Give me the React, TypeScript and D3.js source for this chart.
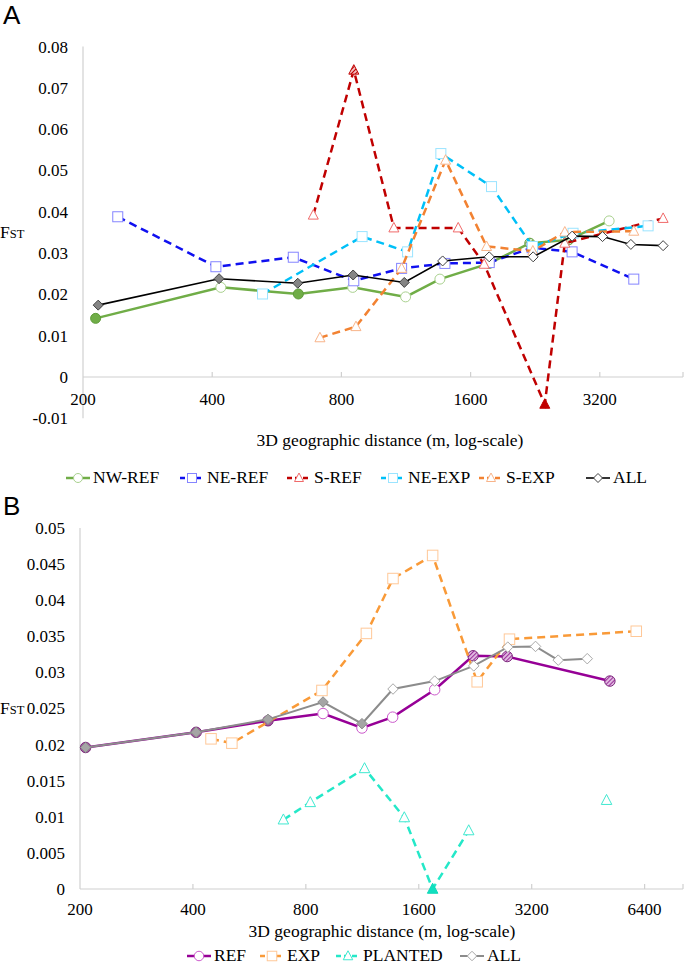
import React from "react";
import * as d3 from "d3";

// ---- panel A: FST vs 3D distance, by region ----
const xTicksA = [200, 400, 800, 1600, 3200];
const yTicksA = [0.08, 0.07, 0.06, 0.05, 0.04, 0.03, 0.02, 0.01, 0, -0.01];

const distNwRef = [214, 419, 635, 850, 1129, 1357, 1768, 2198, 2706, 3364];
const fstNwRef = [0.0142, 0.0217, 0.0201, 0.0217, 0.0194, 0.0237, 0.0275, 0.0324, 0.0332, 0.0378];
const sigNwRef = [2, 0, 2, 0, 0, 0, 1, 1, 1, 0]; // 0 open, 1 hatched, 2 filled

const distNeRef = [241, 408, 618, 855, 1105, 1394, 1768, 2225, 2758, 3840];
const fstNeRef = [0.0388, 0.0267, 0.029, 0.0233, 0.0263, 0.0275, 0.0277, 0.0313, 0.0303, 0.0237];
const sigNeRef = [0, 0, 0, 0, 0, 0, 0, 0, 0, 0];

const distSRef = [688, 855, 1060, 1497, 1721, 2382, 2652, 4494];
const fstSRef = [0.0392, 0.0743, 0.0361, 0.0361, 0.0273, -0.0066, 0.0324, 0.0384];
const sigSRef = [0, 1, 0, 0, 0, 2, 0, 0];

const distNeExp = [524, 894, 1141, 1364, 1790, 2230, 2772, 4146];
const fstNeExp = [0.0201, 0.034, 0.0303, 0.0541, 0.0461, 0.0316, 0.0348, 0.0366];
const sigNeExp = [0, 0, 0, 0, 0, 0, 0, 0];

const distSExp = [713, 865, 1105, 1399, 1743, 2234, 2652, 3840];
const fstSExp = [0.0095, 0.0122, 0.0263, 0.0525, 0.0316, 0.0305, 0.0351, 0.0353];
const sigSExp = [0, 0, 0, 0, 0, 0, 0, 0];

const distAllA = [217, 415, 633, 852, 1121, 1377, 1768, 2238, 2758, 3247, 3780, 4494];
const fstAllA = [0.0174, 0.0238, 0.0227, 0.0247, 0.0229, 0.0281, 0.0291, 0.0291, 0.0341, 0.034, 0.0321, 0.0318];
const sigAllA = [2, 2, 2, 2, 2, 0, 0, 0, 0, 0, 0, 0];

// ---- panel B: FST vs 3D distance, by stand type ----
const xTicksB = [200, 400, 800, 1600, 3200, 6400];
const yTicksB = [0.05, 0.045, 0.04, 0.035, 0.03, 0.025, 0.02, 0.015, 0.01, 0.005, 0];

const distRef = [207, 408, 634, 889, 1129, 1363, 1764, 2233, 2753, 5170];
const fstRef = [0.0196, 0.0217, 0.0233, 0.0243, 0.0223, 0.0238, 0.0276, 0.0323, 0.0322, 0.0288];
const sigRef = [2, 2, 2, 0, 0, 0, 0, 1, 1, 1];

const distExp = [447, 508, 883, 1160, 1366, 1742, 2290, 2792, 6080];
const fstExp = [0.0208, 0.0202, 0.0275, 0.0354, 0.043, 0.0462, 0.0287, 0.0346, 0.0357];
const sigExp = [0, 0, 0, 0, 0, 0, 0, 0, 0];

const distPlanted = [697, 822, 1147, 1464, 1742, 2174];
const fstPlanted = [0.0096, 0.012, 0.0167, 0.0099, 0, 0.0081];
const sigPlanted = [0, 0, 0, 0, 2, 0];
const distPlantedLone = [5066];
const fstPlantedLone = [0.0123];

const distAllB = [207, 408, 634, 889, 1129, 1366, 1764, 2242, 2763, 3276, 3766, 4500];
const fstAllB = [0.0196, 0.0217, 0.0235, 0.0259, 0.0229, 0.0277, 0.0288, 0.0309, 0.0335, 0.0336, 0.0317, 0.0319];
const sigAllB = [2, 2, 2, 2, 2, 0, 0, 0, 0, 0, 0, 0];

const SERIF = "Liberation Serif";
const SANS = "Liberation Sans";

type Shape = "circle" | "square" | "triangle" | "diamond";
type Series = {
  name: string;
  dist: number[];
  fst: number[];
  sig: number[];
  shape: Shape;
  line: string;
  width: number;
  dash?: string;
  mark: string;
  fill: string;
  fillStroke: string;
  hatch: string;
  noLine?: boolean;
  noLegend?: boolean;
};

const seriesA: Series[] = [
  { name: "NW-REF", dist: distNwRef, fst: fstNwRef, sig: sigNwRef, shape: "circle", line: "#70ad47", width: 2.5, mark: "#a9d18e", fill: "#70ad47", fillStroke: "#5f9c3a", hatch: "hGreen" },
  { name: "NE-REF", dist: distNeRef, fst: fstNeRef, sig: sigNeRef, shape: "square", line: "#1010f0", width: 2.5, dash: "8,5", mark: "#8585ff", fill: "#1010f0", fillStroke: "#1010f0", hatch: "hBlue" },
  { name: "S-REF", dist: distSRef, fst: fstSRef, sig: sigSRef, shape: "triangle", line: "#c00000", width: 2.5, dash: "8,5", mark: "#f06a6a", fill: "#c00000", fillStroke: "#c00000", hatch: "hRed" },
  { name: "NE-EXP", dist: distNeExp, fst: fstNeExp, sig: sigNeExp, shape: "square", line: "#00c0f8", width: 2.5, dash: "8,5", mark: "#9be4ff", fill: "#00c0f8", fillStroke: "#00c0f8", hatch: "hBlue" },
  { name: "S-EXP", dist: distSExp, fst: fstSExp, sig: sigSExp, shape: "triangle", line: "#f28232", width: 2.5, dash: "8,5", mark: "#f8b48a", fill: "#f28232", fillStroke: "#f28232", hatch: "hRed" },
  { name: "ALL", dist: distAllA, fst: fstAllA, sig: sigAllA, shape: "diamond", line: "#000000", width: 1.6, mark: "#404040", fill: "#858585", fillStroke: "#404040", hatch: "hGray" },
];

const seriesB: Series[] = [
  { name: "REF", dist: distRef, fst: fstRef, sig: sigRef, shape: "circle", line: "#960096", width: 2.5, mark: "#cc5acc", fill: "#a0589f", fillStroke: "#7c277c", hatch: "hPurple" },
  { name: "EXP", dist: distExp, fst: fstExp, sig: sigExp, shape: "square", line: "#f99a38", width: 2.5, dash: "8,5", mark: "#ffc898", fill: "#f99a38", fillStroke: "#f99a38", hatch: "hRed" },
  { name: "PLANTED", dist: distPlanted, fst: fstPlanted, sig: sigPlanted, shape: "triangle", line: "#24e8c8", width: 2.5, dash: "8,5", mark: "#3fe8d0", fill: "#10e0c0", fillStroke: "#10d8b8", hatch: "hRed" },
  { name: "PLANTED-lone", dist: distPlantedLone, fst: fstPlantedLone, sig: [0], shape: "triangle", line: "#24e8c8", width: 2.5, mark: "#3fe8d0", fill: "#10e0c0", fillStroke: "#10d8b8", hatch: "hRed", noLine: true, noLegend: true },
  { name: "ALL", dist: distAllB, fst: fstAllB, sig: sigAllB, shape: "diamond", line: "#8c8c8c", width: 2, mark: "#a8a8a8", fill: "#a5a5a5", fillStroke: "#8c8c8c", hatch: "hGray" },
];

function Marker({ shape, x, y, s, stroke, fill }: { shape: Shape; x: number; y: number; s: number; stroke: string; fill: string }) {
  if (shape === "circle") return <circle cx={x} cy={y} r={s / 2} fill={fill} stroke={stroke} strokeWidth={1} />;
  if (shape === "square") return <rect x={x - s / 2} y={y - s / 2} width={s} height={s} fill={fill} stroke={stroke} strokeWidth={1} />;
  if (shape === "triangle")
    return <path d={`M${x},${y - s / 2 - 0.5}L${x + s / 2},${y + s / 2 - 1}L${x - s / 2},${y + s / 2 - 1}Z`} fill={fill} stroke={stroke} strokeWidth={1} />;
  return <path d={`M${x},${y - s / 2}L${x + s / 2},${y}L${x},${y + s / 2}L${x - s / 2},${y}Z`} fill={fill} stroke={stroke} strokeWidth={1} />;
}

function markerFill(se: Series, sig: number) {
  if (sig === 2) return { fill: se.fill, stroke: se.fillStroke };
  if (sig === 1) return { fill: `url(#${se.hatch})`, stroke: se.fillStroke };
  return { fill: "#ffffff", stroke: se.mark };
}

type PanelProps = {
  letter: string;
  top: number;
  series: Series[];
  x: d3.ScaleLogarithmic<number, number>;
  y: d3.ScaleLinear<number, number>;
  xTicks: number[];
  yTicks: number[];
  xEnd: number;
  yLabelRight: number;
  xLabelY: number;
  titleX: number;
  titleY: number;
  fstY: number;
  legendY: number;
  legendX: number[];
  markSize: number;
};

function Panel(p: PanelProps) {
  const yZero = p.y(0);
  const [yMin, yMax] = p.y.domain();
  const x0 = p.x.range()[0];
  const lineGen = d3
    .line<[number, number]>()
    .x((d) => p.x(d[0]))
    .y((d) => p.y(d[1]));
  return (
    <g>
      <text x={3} y={p.top} style={{ fontFamily: SANS }} fontSize={26}>
        {p.letter}
      </text>
      {/* axes */}
      <line x1={x0} x2={x0} y1={p.y(yMax)} y2={p.y(yMin)} stroke="#d0d0d0" strokeWidth={1.2} />
      <line x1={x0} x2={p.xEnd} y1={yZero} y2={yZero} stroke="#d0d0d0" strokeWidth={1.2} />
      {[...p.xTicks.slice(1).map((t) => p.x(t)), p.xEnd].map((px, i) => (
        <line key={i} x1={px} x2={px} y1={yZero} y2={yZero - 5} stroke="#d0d0d0" strokeWidth={1.2} />
      ))}
      <g style={{ fontFamily: SERIF }}>
        {p.yTicks.map((t) => (
          <text key={t} x={p.yLabelRight} y={p.y(t)} dy="0.35em" textAnchor="end" fontSize={17}>
            {t === 0 ? "0" : String(t)}
          </text>
        ))}
        {p.xTicks.map((t) => (
          <text key={t} x={p.x(t)} y={p.xLabelY} textAnchor="middle" fontSize={17}>
            {t}
          </text>
        ))}
        <text x={p.titleX} y={p.titleY} textAnchor="middle" fontSize={17.5}>
          3D geographic distance (m, log-scale)
        </text>
        <text x={0} y={p.fstY} fontSize={17.5}>
          F<tspan fontSize={12.5}>ST</tspan>
        </text>
      </g>
      {/* series */}
      {p.series.map((se) => (
        <g key={se.name}>
          {!se.noLine && (
            <path
              d={lineGen(se.dist.map((d, i) => [d, se.fst[i]] as [number, number])) || ""}
              fill="none"
              stroke={se.line}
              strokeWidth={se.width}
              strokeDasharray={se.dash}
            />
          )}
          {se.dist.map((d, i) => {
            const m = markerFill(se, se.sig[i]);
            return <Marker key={i} shape={se.shape} x={p.x(d)} y={p.y(se.fst[i])} s={p.markSize} stroke={m.stroke} fill={m.fill} />;
          })}
        </g>
      ))}
      {/* legend */}
      {p.series
        .filter((se) => !se.noLegend)
        .map((se, i) => {
          const lx = p.legendX[i];
          return (
            <g key={se.name}>
              <line x1={lx} x2={lx + 24} y1={p.legendY - 5} y2={p.legendY - 5} stroke={se.line} strokeWidth={se.width} strokeDasharray={se.dash ? "5,3" : undefined} />
              <Marker shape={se.shape} x={lx + 12} y={p.legendY - 5} s={p.markSize - 1} stroke={se.mark} fill="#ffffff" />
              <text x={lx + 27} y={p.legendY} style={{ fontFamily: SERIF }} fontSize={17.5}>
                {se.name}
              </text>
            </g>
          );
        })}
    </g>
  );
}

function Hatch({ id, color, bg }: { id: string; color: string; bg: string }) {
  return (
    <pattern id={id} patternUnits="userSpaceOnUse" width={3} height={3} patternTransform="rotate(45)">
      <rect width={3} height={3} fill={bg} />
      <line x1={0} y1={0} x2={0} y2={3} stroke={color} strokeWidth={2} />
    </pattern>
  );
}

export default function App() {
  const xA = d3.scaleLog().domain([200, 5000]).range([83, 683]);
  const yA = d3.scaleLinear().domain([-0.01, 0.08]).range([418.3, 46.6]);
  const xB = d3.scaleLog().domain([200, 8100]).range([80, 683]);
  const yB = d3.scaleLinear().domain([0, 0.05]).range([889, 528]);

  return (
    <div style={{ position: "absolute", left: 0, top: 0 }}>
      <svg width={685} height={965} style={{ display: "block", background: "#fff" }}>
        <defs>
          <Hatch id="hGreen" color="#70ad47" bg="#d6ead0" />
          <Hatch id="hRed" color="#c00000" bg="#f4c0c0" />
          <Hatch id="hBlue" color="#1010f0" bg="#c8c8ff" />
          <Hatch id="hGray" color="#606060" bg="#d0d0d0" />
          <Hatch id="hPurple" color="#9a2d9a" bg="#e0b8e0" />
        </defs>
        <Panel
          letter="A"
          top={24}
          series={seriesA}
          x={xA}
          y={yA}
          xTicks={xTicksA}
          yTicks={yTicksA}
          xEnd={683}
          yLabelRight={68}
          xLabelY={405}
          titleX={390}
          titleY={446}
          fstY={238}
          legendY={483}
          legendX={[66, 180, 287, 381, 479, 586]}
          markSize={10}
        />
        <Panel
          letter="B"
          top={515}
          series={seriesB}
          x={xB}
          y={yB}
          xTicks={xTicksB}
          yTicks={yTicksB}
          xEnd={683}
          yLabelRight={65}
          xLabelY={915}
          titleX={382}
          titleY={937}
          fstY={714}
          legendY={961}
          legendX={[187, 260, 336, 460]}
          markSize={10.5}
        />
      </svg>
    </div>
  );
}
